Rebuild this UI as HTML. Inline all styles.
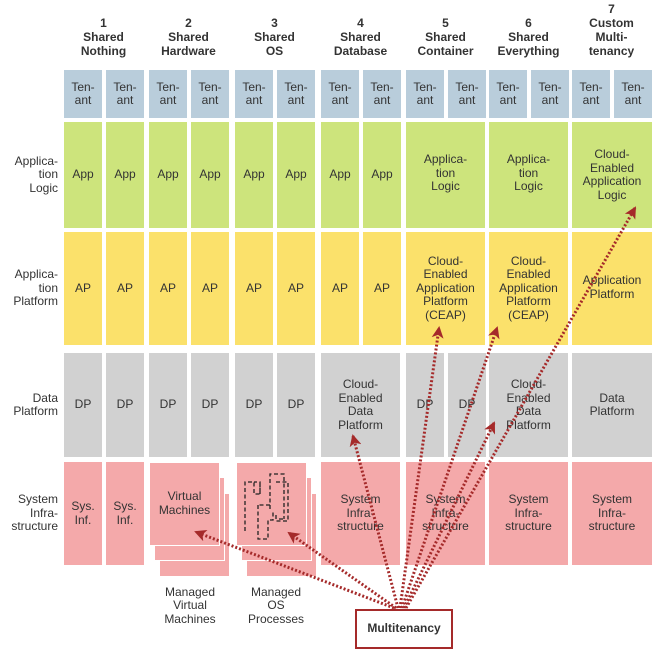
<!DOCTYPE html>
<html><head><meta charset="utf-8"><style>
body{margin:0;background:#fff;width:655px;height:652px;overflow:hidden;font-family:"Liberation Sans",sans-serif;}
.c{position:absolute;display:flex;align-items:center;justify-content:center;text-align:center;font-size:12px;line-height:13.5px;color:#333;}
.t{background:#b9cddb}.a{background:#cde47c}.p{background:#fbe16b}.d{background:#d1d1d1}.s{background:#f4a9aa}
.h{position:absolute;text-align:center;font-weight:bold;font-size:12px;line-height:14px;color:#333;width:81px}
.r{position:absolute;left:0;width:58px;text-align:right;font-size:12px;line-height:13.5px;color:#333;display:flex;align-items:center;justify-content:flex-end}
</style></head><body>
<div id="root"></div>
<svg id="arrows" width="655" height="652" style="position:absolute;left:0;top:0;pointer-events:none"></svg>
<div class="c" style="left:355px;top:609px;width:94px;height:36px;border:2px solid #a52a2a;background:#fff;font-weight:bold;z-index:5">Multitenancy</div>
<script>
const root=document.getElementById('root');
function box(cls,x,y,w,h,txt,name){const e=document.createElement('div');e.className='c '+cls;e.style.cssText=`left:${x}px;top:${y}px;width:${w}px;height:${h}px`;e.innerHTML=txt;


root.appendChild(e);return e;}
const colX=[64,149,235,321,406,489,572];
const headers=['1<br>Shared<br>Nothing','2<br>Shared<br>Hardware','3<br>Shared<br>OS','4<br>Shared<br>Database','5<br>Shared<br>Container','6<br>Shared<br>Everything','7<br>Custom<br>Multi-<br>tenancy'];
headers.forEach((h,i)=>{const e=document.createElement('div');e.className='h';e.style.left=(colX[i]-1)+'px';e.style.top=(i==6?2:16)+'px';e.innerHTML=h;


root.appendChild(e);});
const rows=[[70,48,'t'],[122,106,'a'],[232,113,'p'],[353,104,'d'],[462,103,'s']];
const labels=['','Applica-<br>tion<br>Logic','Applica-<br>tion<br>Platform','Data<br>Platform','System<br>Infra-<br>structure'];
labels.forEach((l,i)=>{if(!l)return;const e=document.createElement('div');e.className='r';e.style.top=rows[i][0]+'px';e.style.height=rows[i][1]+'px';e.innerHTML=l;


root.appendChild(e);});
const split=[[1,1,1,1,1],[1,1,1,1,0],[1,1,1,1,0],[1,1,1,0,0],[1,0,0,1,0],[1,0,0,0,0],[1,0,0,0,0]];
const small=['Ten-<br>ant','App','AP','DP','Sys.<br>Inf.'];
const wide={4:{1:'Applica-<br>tion<br>Logic',2:'Cloud-<br>Enabled<br>Application<br>Platform<br>(CEAP)',4:'System<br>Infra-<br>structure'},
5:{1:'Applica-<br>tion<br>Logic',2:'Cloud-<br>Enabled<br>Application<br>Platform<br>(CEAP)',3:'Cloud-<br>Enabled<br>Data<br>Platform',4:'System<br>Infra-<br>structure'},
6:{1:'Cloud-<br>Enabled<br>Application<br>Logic',2:'Application<br>Platform',3:'Data<br>Platform',4:'System<br>Infra-<br>structure'},
3:{3:'Cloud-<br>Enabled<br>Data<br>Platform',4:'System<br>Infra-<br>structure'}};
for(let c=0;c<7;c++){for(let r=0;r<5;r++){const [y,h,cls]=rows[r];const x=colX[c];
 if((c==1||c==2)&&r==4)continue;
 if(split[c][r]){box(cls,x,y,38,h,small[r],'cell-c'+(c+1)+'-r'+r+'-a');box(cls,x+42,y,38,h,small[r],'cell-c'+(c+1)+'-r'+r+'-b');}
 else {const txt=(wide[c]&&wide[c][r])||'';const e=box(cls,x,y,c==6?80:79,h,txt,'cell-c'+(c+1)+'-r'+r);
   if(c==6&&r==1){e.style.alignItems='flex-start';e.style.paddingTop='26px';e.style.height=(h-26)+'px';}
   if((c==5||c==4)&&r==1){e.style.alignItems='flex-start';e.style.paddingTop='31px';e.style.height=(h-31)+'px';}
   if(c==6&&r==2){e.style.alignItems='flex-start';e.style.paddingTop='42px';e.style.height=(h-42)+'px';}
 }}}
[[150,'Virtual<br>Machines'],[237,'']].forEach(([x,t],i)=>{
 box('s',x+10,494,69,82,'','stack-back-'+i).style.boxShadow='0 0 0 1px #fff';
 box('s',x+5,478,69,82,'','stack-mid-'+i).style.boxShadow='0 0 0 1px #fff';
 const f=box('s',x,463,69,82,t,'stack-front-'+i);f.style.boxShadow='0 0 0 1px #fff';f.style.alignItems='flex-start';f.style.paddingTop='27px';f.style.height='55px';
});
box('',150,585,80,42,'Managed<br>Virtual<br>Machines','label-managed-vm').style.background='transparent';
box('',236,585,80,42,'Managed<br>OS<br>Processes','label-managed-os').style.background='transparent';
const svg=document.getElementById('arrows');const NS='http://www.w3.org/2000/svg';
const dp=document.createElementNS(NS,'path');dp.setAttribute('d','M245 531v-49h9v12h6v-12h-6 M260 494v-12 M258 505v34h10v-19h5v-10 M270 505h-12 M270 509v-35h14v45 M279 519h5 M276 482h12v39h-12v-6');
dp.setAttribute('fill','none');dp.setAttribute('stroke','#222');dp.setAttribute('stroke-width','1.3');dp.setAttribute('stroke-dasharray','4 2.5');


svg.appendChild(dp);
const origin=[400,608];
const targets=[[196,532],[289,533],[353,436],[439,328],[497,328],[494,423],[635,208]];
const defs=document.createElementNS(NS,'defs');defs.innerHTML='<marker id="ah" markerWidth="12" markerHeight="12" refX="10" refY="6" orient="auto" markerUnits="userSpaceOnUse" viewBox="0 0 12 12"><path d="M0 0L12 6L0 12L3 6z" fill="#a52a2a"/></marker>';
svg.appendChild(defs);
targets.forEach((t,i)=>{const l=document.createElementNS(NS,'line');
 l.setAttribute('x1',origin[0]+(i-3)*2);l.setAttribute('y1',origin[1]);l.setAttribute('x2',t[0]);l.setAttribute('y2',t[1]);
 l.setAttribute('stroke','#a52a2a');l.setAttribute('stroke-width','3');l.setAttribute('stroke-dasharray','2 2');
 l.setAttribute('marker-end','url(#ah)');
 
 
 svg.appendChild(l);});
</script>
</body></html>
